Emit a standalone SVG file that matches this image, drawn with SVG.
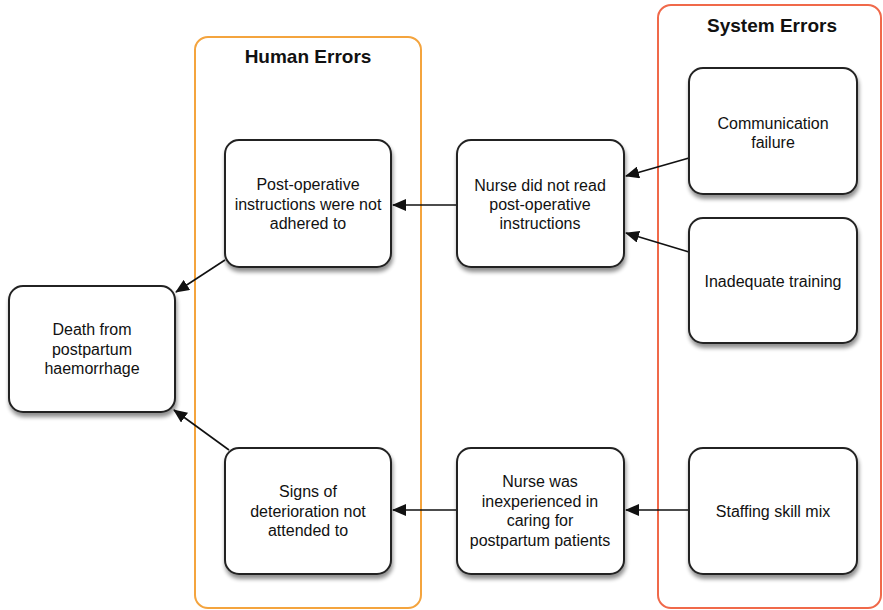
<svg xmlns="http://www.w3.org/2000/svg" width="883" height="610" viewBox="0 0 883 610">
<defs>
<filter id="sh" x="-10%" y="-10%" width="130%" height="130%">
<feGaussianBlur in="SourceAlpha" stdDeviation="2"/>
<feOffset dx="1" dy="4" result="o"/>
<feComponentTransfer><feFuncA type="linear" slope="0.45"/></feComponentTransfer>
<feMerge><feMergeNode/><feMergeNode in="SourceGraphic"/></feMerge>
</filter>
<marker id="ah" markerWidth="14" markerHeight="12" refX="13" refY="6" orient="auto" markerUnits="userSpaceOnUse">
<path d="M0,0 L14,6 L0,12 Z" fill="#111"/>
</marker>
</defs>
<style>
.node rect{fill:#fff;stroke:#222;stroke-width:2;filter:url(#sh)}
.node text{font-family:"Liberation Sans",Arial,sans-serif;font-size:16px;fill:#111;text-anchor:middle}
.title{font-family:"Liberation Sans",Arial,sans-serif;font-size:19px;font-weight:bold;fill:#111;text-anchor:middle}
.conn line{stroke:#111;stroke-width:1.6;marker-end:url(#ah)}
</style>
<rect width="883" height="610" fill="#fff"/>
<g id="human-errors">
<rect x="195" y="37" width="226" height="571" rx="13" fill="none" stroke="#f4a43e" stroke-width="2"/>
<text class="title" x="308" y="63">Human Errors</text>
</g>
<g id="system-errors">
<rect x="658" y="5" width="223" height="603" rx="13" fill="none" stroke="#f0694a" stroke-width="2"/>
<text class="title" x="772" y="32">System Errors</text>
</g>
<g class="conn" id="connectors">
<line x1="457" y1="205" x2="393" y2="205"/>
<line x1="689" y1="158" x2="626" y2="176"/>
<line x1="689" y1="252" x2="626" y2="233"/>
<line x1="225" y1="260" x2="176" y2="292"/>
<line x1="229" y1="450" x2="174" y2="410"/>
<line x1="457" y1="510" x2="393" y2="510"/>
<line x1="689" y1="510" x2="626" y2="510"/>
</g>
<g class="node" id="n-postop">
<rect x="225" y="140" width="166" height="127" rx="14"/>
<text x="308" y="190">Post-operative</text>
<text x="308" y="210">instructions were not</text>
<text x="308" y="229">adhered to</text>
</g>
<g class="node" id="n-nurse-read">
<rect x="457" y="140" width="167" height="127" rx="14"/>
<text x="540" y="191">Nurse did not read</text>
<text x="540" y="210">post-operative</text>
<text x="540" y="229">instructions</text>
</g>
<g class="node" id="n-comm">
<rect x="689" y="68" width="168" height="126" rx="14"/>
<text x="773" y="129">Communication</text>
<text x="773" y="148">failure</text>
</g>
<g class="node" id="n-training">
<rect x="689" y="218" width="168" height="125" rx="14"/>
<text x="773" y="287">Inadequate training</text>
</g>
<g class="node" id="n-death">
<rect x="9" y="286" width="166" height="126" rx="14"/>
<text x="92" y="335">Death from</text>
<text x="92" y="355">postpartum</text>
<text x="92" y="374">haemorrhage</text>
</g>
<g class="node" id="n-signs">
<rect x="225" y="448" width="166" height="126" rx="14"/>
<text x="308" y="497">Signs of</text>
<text x="308" y="517">deterioration not</text>
<text x="308" y="536">attended to</text>
</g>
<g class="node" id="n-nurse-inexp">
<rect x="457" y="448" width="167" height="126" rx="14"/>
<text x="540" y="487">Nurse was</text>
<text x="540" y="507">inexperienced in</text>
<text x="540" y="526">caring for</text>
<text x="540" y="546">postpartum patients</text>
</g>
<g class="node" id="n-staffing">
<rect x="689" y="448" width="168" height="126" rx="14"/>
<text x="773" y="517">Staffing skill mix</text>
</g>
</svg>
